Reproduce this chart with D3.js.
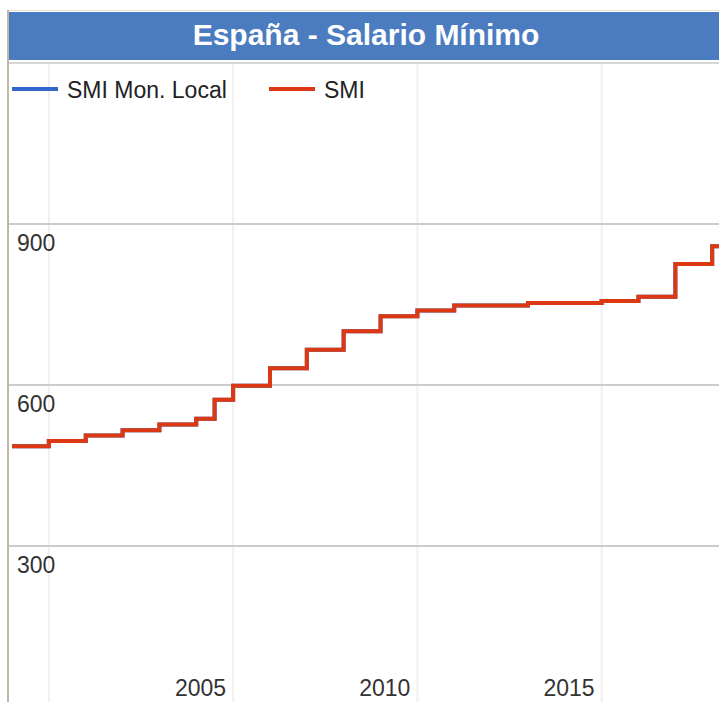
<!DOCTYPE html>
<html>
<head>
<meta charset="utf-8">
<script src="https://cdn.jsdelivr.net/npm/d3@7"></script>
<style>
  body { margin: 0; background: #fff; }
  text { font-family: "Liberation Sans", Arial, Helvetica, sans-serif; }
</style>
</head>
<body>
<svg id="chart" width="719" height="702"></svg>
<script>
// datos (SMI mensual prorrateado 14 pagas, EUR)
var fechas = ["1999-01-01","2000-01-01","2001-01-01","2002-01-01","2003-01-01","2004-01-01","2004-07-01",
  "2005-01-01","2006-01-01","2007-01-01","2008-01-01","2009-01-01","2010-01-01","2011-01-01","2012-01-01",
  "2013-01-01","2014-01-01","2015-01-01","2016-01-01","2017-01-01","2018-01-01","2019-01-01","2020-01-01"];
var smiLocal = [485.7,495.6,505.7,515.9,526.4,537.3,572.6,598.5,631.1,665.7,700.0,728.0,738.9,748.3,748.3,
  752.9,752.9,756.7,764.4,825.6,858.6,1050.0,1050.0];
var smi = [485.7,495.6,505.7,515.9,526.4,537.3,572.6,598.5,631.1,665.7,700.0,728.0,738.9,748.3,748.3,
  752.9,752.9,756.7,764.4,825.6,858.6,1050.0,1050.0];
var yTicks = [300, 600, 900, 1200];
var xTicks = [2000, 2005, 2010, 2015];
var xLabels = [2005, 2010, 2015];
var series = ["SMI Mon. Local", "SMI"];
var colores = ["#3366cc", "#dc3912"];

var svg = d3.select("#chart");
var parse = d3.timeParse("%Y-%m-%d");

var x = d3.scaleTime()
  .domain([new Date(1999, 0, 1), new Date(2020, 0, 1)])
  .range([12, 12 + 21 * 36.85]);
var y = d3.scaleLinear().domain([0, 1200]).range([707, 63]);

// marco
svg.append("line").attr("x1", 7).attr("x2", 719).attr("y1", 10.5).attr("y2", 10.5)
  .attr("stroke", "#eadfcf").attr("stroke-width", 1);
svg.append("rect").attr("x", 8).attr("y", 12).attr("width", 720).attr("height", 48)
  .attr("fill", "#4b7cc0");
svg.append("text").attr("x", 366).attr("y", 45).attr("text-anchor", "middle")
  .attr("fill", "#fff").attr("font-size", 30).attr("font-weight", "bold")
  .text("España - Salario Mínimo");

// rejilla vertical
svg.append("g").selectAll("line").data(xTicks).join("line")
  .attr("x1", d => x(new Date(d, 0, 1))).attr("x2", d => x(new Date(d, 0, 1)))
  .attr("y1", 62).attr("y2", 702)
  .attr("stroke", "#f0f0f0").attr("stroke-width", 2);

// rejilla horizontal
svg.append("g").selectAll("line").data(yTicks).join("line")
  .attr("x1", 9).attr("x2", 719)
  .attr("y1", d => y(d)).attr("y2", d => y(d))
  .attr("stroke", d => d === 1200 ? "#d6d6d6" : "#cccccc").attr("stroke-width", 2);

svg.append("g").selectAll("text").data(yTicks.filter(d => d < 1200)).join("text")
  .attr("x", 17).attr("y", d => y(d) + 27)
  .attr("font-size", 23).attr("fill", "#333")
  .text(d => d);

svg.append("g").selectAll("text").data(xLabels).join("text")
  .attr("x", d => x(new Date(d, 0, 1)) - 7).attr("y", 696)
  .attr("text-anchor", "end").attr("font-size", 23).attr("fill", "#333")
  .text(d => d);

// lineas
svg.append("clipPath").attr("id", "clip").append("rect")
  .attr("x", 12).attr("y", 62).attr("width", 720).attr("height", 650);

var linea = d3.line()
  .x(d => x(d[0])).y(d => y(d[1]))
  .curve(d3.curveStepAfter);

[smiLocal, smi].forEach(function (vals, i) {
  var pts = fechas.map((f, j) => [parse(f), vals[j]]);
  svg.append("path")
    .attr("clip-path", "url(#clip)")
    .attr("d", linea(pts))
    .attr("fill", "none")
    .attr("stroke", colores[i])
    .attr("stroke-width", 4)
    .attr("stroke-linejoin", "miter");
});

// leyenda
var leyX = [12, 269];
series.forEach(function (s, i) {
  svg.append("line").attr("x1", leyX[i]).attr("x2", leyX[i] + 46)
    .attr("y1", 89).attr("y2", 89)
    .attr("stroke", colores[i]).attr("stroke-width", 4);
  svg.append("text").attr("x", leyX[i] + 55).attr("y", 97.5)
    .attr("font-size", 23).attr("fill", "#222").text(s);
});

// borde izquierdo
svg.append("line").attr("x1", 8).attr("x2", 8).attr("y1", 10).attr("y2", 702)
  .attr("stroke", "#bfb6a8").attr("stroke-width", 2);
</script>
</body>
</html>
